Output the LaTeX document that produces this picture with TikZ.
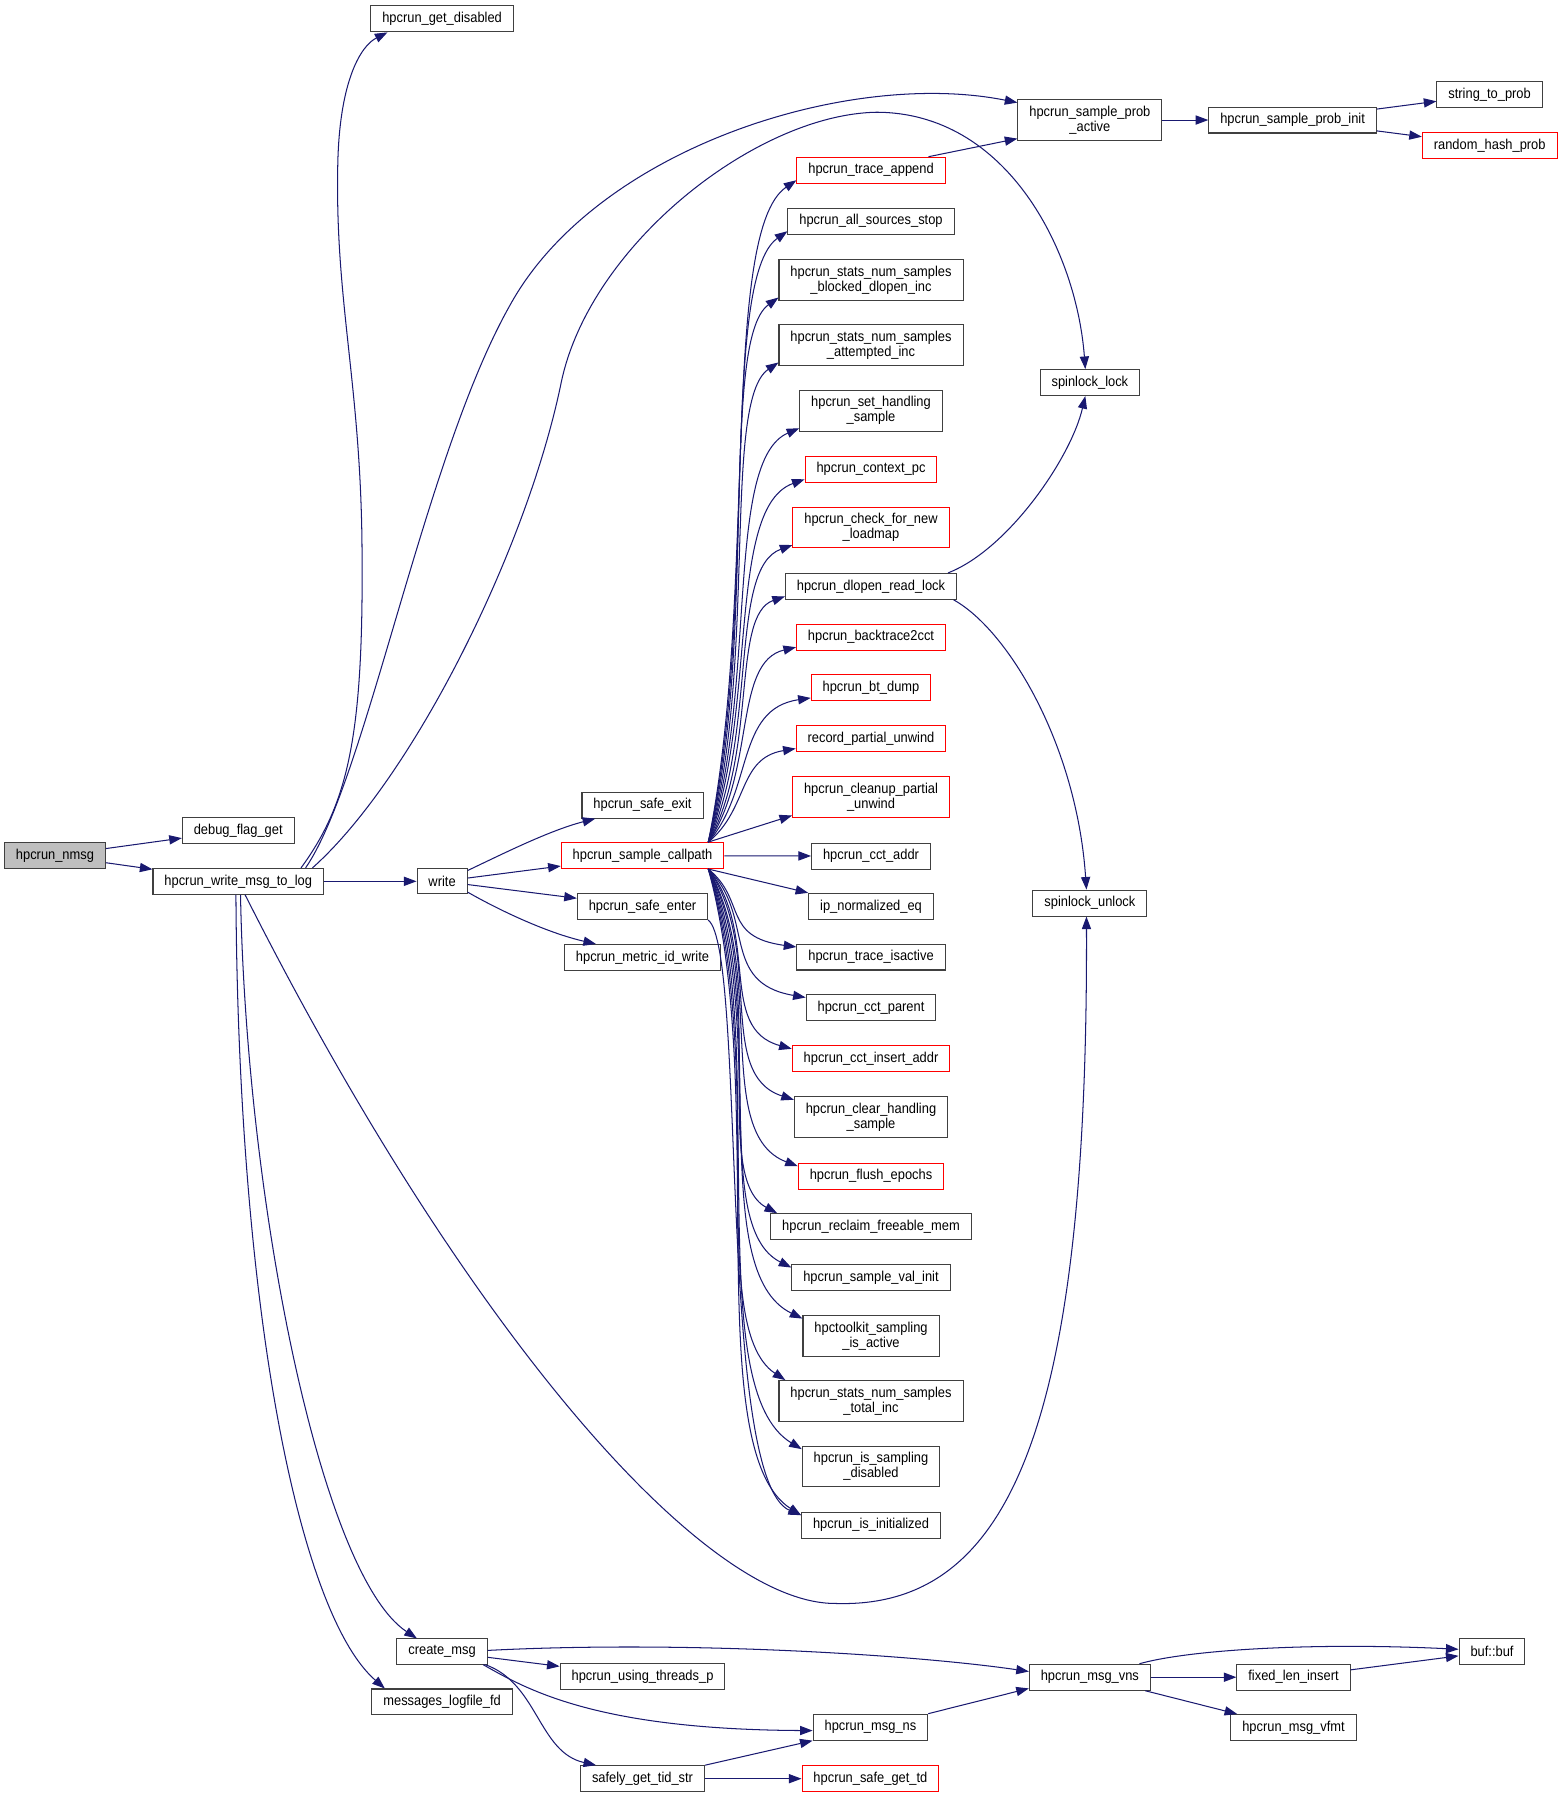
\documentclass[tikz,border=0pt]{standalone}
\usepackage{fontspec}
\setmainfont{Liberation Sans}[FakeStretch=0.9]
\usepackage{xcolor}
\usetikzlibrary{arrows.meta}

\definecolor{edgeblue}{HTML}{191970}
\definecolor{boxline}{HTML}{404040}
\definecolor{rootfill}{HTML}{BFBFBF}

\tikzset{
  fnbox/.style={draw=boxline, line width=0.9pt, fill=white, inner xsep=10pt, inner ysep=5.5pt,
    minimum height=22pt, align=center, font=\fontsize{12.5}{13}\selectfont},
  fnboxred/.style={fnbox, draw=red},
  fnboxroot/.style={fnbox, fill=rootfill},
  call/.style={draw=edgeblue, line width=0.9pt, -{Triangle[length=11pt,width=8pt]}},
}

\begin{document}
\begin{tikzpicture}[x=1pt, y=-1pt]
\useasboundingbox[fill=white] (0,0) rectangle (1363,1569);

\node[fnboxroot] (nmsg) at (48,747) {hpcrun\_nmsg};
\node[fnbox] (dbgflag) at (208,725) {debug\_flag\_get};
\node[fnbox] (wlog) at (208,769.5) {hpcrun\_write\_msg\_to\_log};
\node[fnbox] (getdis) at (386,16.5) {hpcrun\_get\_disabled};
\node[fnbox] (write) at (386,769.5) {write};
\node[fnbox] (cmsg) at (386,1442) {create\_msg};
\node[fnbox] (logfd) at (386,1486) {messages\_logfile\_fd};

\node[fnbox] (sexit) at (561,703) {hpcrun\_safe\_exit};
\node[fnboxred] (cp) at (561,747) {hpcrun\_sample\_callpath};
\node[fnbox] (senter) at (561,791.5) {hpcrun\_safe\_enter};
\node[fnbox] (metric) at (561,836) {hpcrun\_metric\_id\_write};
\node[fnbox] (threads) at (561,1464) {hpcrun\_using\_threads\_p};
\node[fnbox] (tidstr) at (561,1553) {safely\_get\_tid\_str};

\node[fnboxred] (trace) at (760.5,148.6) {hpcrun\_trace\_append};
\node[fnbox] (allstop) at (760.5,193.1) {hpcrun\_all\_sources\_stop};
\node[fnbox] (blocked) at (760.5,244.5) {hpcrun\_stats\_num\_samples\\\_blocked\_dlopen\_inc};
\node[fnbox] (attempted) at (760.5,301.2) {hpcrun\_stats\_num\_samples\\\_attempted\_inc};
\node[fnbox] (sethandling) at (760.5,358.6) {hpcrun\_set\_handling\\\_sample};
\node[fnboxred] (ctxpc) at (760.5,409.7) {hpcrun\_context\_pc};
\node[fnboxred] (loadmap) at (760.5,460.6) {hpcrun\_check\_for\_new\\\_loadmap};
\node[fnbox] (dlopen) at (760.5,512) {hpcrun\_dlopen\_read\_lock};
\node[fnboxred] (bttocct) at (760.5,556.3) {hpcrun\_backtrace2cct};
\node[fnboxred] (btdump) at (760.5,600.6) {hpcrun\_bt\_dump};
\node[fnboxred] (recpart) at (760.5,644.8) {record\_partial\_unwind};
\node[fnboxred] (cleanup) at (760.5,695.8) {hpcrun\_cleanup\_partial\\\_unwind};
\node[fnbox] (cctaddr) at (760.5,747.5) {hpcrun\_cct\_addr};
\node[fnbox] (ipnorm) at (760.5,791.3) {ip\_normalized\_eq};
\node[fnbox] (traceact) at (760.5,835.6) {hpcrun\_trace\_isactive};
\node[fnbox] (cctparent) at (760.5,879.7) {hpcrun\_cct\_parent};
\node[fnboxred] (cctinsert) at (760.5,924.5) {hpcrun\_cct\_insert\_addr};
\node[fnbox] (clearhandling) at (760.5,975.5) {hpcrun\_clear\_handling\\\_sample};
\node[fnboxred] (flush) at (760.5,1027) {hpcrun\_flush\_epochs};
\node[fnbox] (reclaim) at (760.5,1071) {hpcrun\_reclaim\_freeable\_mem};
\node[fnbox] (valinit) at (760.5,1115.5) {hpcrun\_sample\_val\_init};
\node[fnbox] (sampactive) at (760.5,1166.5) {hpctoolkit\_sampling\\\_is\_active};
\node[fnbox] (totalinc) at (760.5,1223.2) {hpcrun\_stats\_num\_samples\\\_total\_inc};
\node[fnbox] (sampdisabled) at (760.5,1280.5) {hpcrun\_is\_sampling\\\_disabled};
\node[fnbox] (isinit) at (760.5,1331.7) {hpcrun\_is\_initialized};
\node[fnbox] (msgns) at (760,1508) {hpcrun\_msg\_ns};
\node[fnboxred] (safetd) at (760,1553) {hpcrun\_safe\_get\_td};

\node[fnbox] (probact) at (951.6,104.8) {hpcrun\_sample\_prob\\\_active};
\node[fnbox] (splock) at (951.6,334) {spinlock\_lock};
\node[fnbox] (spunlock) at (951.6,788.5) {spinlock\_unlock};
\node[fnbox] (msgvns) at (951.6,1464.4) {hpcrun\_msg\_vns};
\node[fnbox] (probinit) at (1128.6,104.8) {hpcrun\_sample\_prob\_init};
\node[fnbox] (fixlen) at (1129.4,1464.4) {fixed\_len\_insert};
\node[fnbox] (vfmt) at (1129.4,1508.3) {hpcrun\_msg\_vfmt};
\node[fnbox] (strprob) at (1300.6,82.4) {string\_to\_prob};
\node[fnboxred] (randhash) at (1300.7,127) {random\_hash\_prob};
\node[fnbox] (buf) at (1302.7,1442) {buf::buf};

\coordinate (cpup) at ([xshift=-14pt]cp.north east);
\coordinate (cpdown) at ([xshift=-14pt]cp.south east);

\draw[call] (nmsg) -- (dbgflag);
\draw[call] (nmsg) -- (wlog);
\draw[call] (wlog) -- (write);
\draw[call] ([xshift=-20pt]wlog.north east) .. controls (305,700) and (318,640) .. (316,470)
  .. controls (314,330) and (292,260) .. (295,140) .. controls (297,70) and (315,40) .. ([xshift=15pt]getdis.south west);
\draw[call] ([xshift=-16pt]wlog.north east) .. controls (320,680) and (370,400) .. (445,267)
  .. controls (520,130) and (740,60) .. ([yshift=-3pt]probact.north west);
\draw[call] ([xshift=-10pt]wlog.north east) .. controls (360,680) and (460,480) .. (490,334)
  .. controls (515,214) and (660,100) .. (765,98) .. controls (880,98) and (940,220) .. ([xshift=-4pt]splock.north);
\draw[call] ([xshift=6pt]wlog.south) .. controls (400,1150) and (610,1400) .. (729,1400)
  .. controls (880,1405) and (950,1250) .. ([xshift=-3pt]spunlock.south);
\draw[call] ([xshift=2pt]wlog.south) .. controls (215,1050) and (280,1375) .. ([xshift=-22pt]cmsg.north);
\draw[call] ([xshift=-2pt]wlog.south) .. controls (208,1150) and (262,1410) .. ([xshift=-50pt]logfd.north);

\draw[call] ([yshift=-2pt]write.north east) .. controls (440,745) and (480,725) .. ([xshift=12pt]sexit.south west);
\draw[call] (write) -- (cp);
\draw[call] (write) -- (senter);
\draw[call] ([yshift=2pt]write.south east) .. controls (440,797) and (480,815) .. ([xshift=28pt]metric.north west);

\draw[call] (cpup) .. controls (662,520) and (628,203) .. ([yshift=3pt]trace.south west);
\draw[call] (cpup) .. controls (662,540) and (628,244) .. ([yshift=3pt]allstop.south west);
\draw[call] (cpup) .. controls (662,560) and (628,297) .. ([yshift=3pt]blocked.south west);
\draw[call] (cpup) .. controls (662,582) and (630,350) .. ([yshift=3pt]attempted.south west);
\draw[call] (cpup) .. controls (662,602) and (632,402) .. ([yshift=3pt]sethandling.south west);
\draw[call] (cpup) .. controls (662,620) and (634,443) .. ([yshift=3pt]ctxpc.south west);
\draw[call] (cpup) .. controls (662,640) and (636,496) .. ([yshift=3pt]loadmap.south west);
\draw[call] (cpup) .. controls (662,658) and (638,537) .. ([yshift=3pt]dlopen.south west);
\draw[call] (cpup) .. controls (660,674) and (640,578) .. ([yshift=3pt]bttocct.south west);
\draw[call] (cpup) .. controls (658,690) and (642,619) .. ([yshift=3pt]btdump.south west);
\draw[call] (cpup) .. controls (654,706) and (644,662) .. ([yshift=3pt]recpart.south west);
\draw[call] (cpup) -- ([yshift=2pt]cleanup.south west);
\draw[call] (cp) -- (cctaddr);
\draw[call] (cpdown) -- (ipnorm.north west);
\draw[call] (cpdown) .. controls (652,786) and (630,818) .. ([yshift=-3pt]traceact.north west);
\draw[call] (cpdown) .. controls (660,800) and (628,858) .. ([yshift=-3pt]cctparent.north west);
\draw[call] (cpdown) .. controls (664,815) and (626,898) .. ([yshift=-3pt]cctinsert.north west);
\draw[call] (cpdown) .. controls (668,830) and (624,938) .. ([yshift=-3pt]clearhandling.north west);
\draw[call] (cpdown) .. controls (670,848) and (622,990) .. ([yshift=-3pt]flush.north west);
\draw[call] (cpdown) .. controls (672,862) and (620,1028) .. ([xshift=6pt]reclaim.north west);
\draw[call] (cpdown) .. controls (672,878) and (618,1070) .. ([yshift=-3pt]valinit.north west);
\draw[call] (cpdown) .. controls (672,894) and (616,1110) .. ([yshift=-3pt]sampactive.north west);
\draw[call] (cpdown) .. controls (672,912) and (614,1158) .. ([xshift=6pt]totalinc.north west);
\draw[call] (cpdown) .. controls (672,932) and (612,1212) .. ([yshift=-3pt]sampdisabled.north west);
\draw[call] (cpdown) .. controls (672,952) and (610,1266) .. ([yshift=-3pt]isinit.north west);
\draw[call] (senter.south east) .. controls (652,830) and (626,1292) .. ([yshift=-3pt]isinit.north west);

\draw[call] ([xshift=-15pt]trace.north east) -- ([yshift=2pt]probact.south west);
\draw[call] (probact) -- (probinit);
\draw[call] (probinit) -- (strprob);
\draw[call] (probinit) -- (randhash);
\draw[call] ([xshift=-8pt]dlopen.north east) .. controls (880,480) and (935,400) .. ([xshift=-4pt]splock.south);
\draw[call] ([xshift=-3pt]dlopen.south east) .. controls (880,550) and (940,650) .. ([xshift=-3pt]spunlock.north);

\draw[call] (cmsg) -- (threads);
\draw[call] ([yshift=1pt]cmsg.east) .. controls (600,1432) and (800,1445) .. ([yshift=5pt]msgvns.west);
\draw[call] ([xshift=-4pt]cmsg.south east) .. controls (460,1475) and (520,1510) .. ([yshift=-3pt]msgns.west);
\draw[call] ([xshift=-2pt]cmsg.south east) .. controls (470,1470) and (470,1530) .. ([xshift=14pt]tidstr.north west);
\draw[call] (tidstr.north east) -- (msgns.south west);
\draw[call] (tidstr) -- (safetd);
\draw[call] (msgns.north east) -- ([yshift=2pt]msgvns.south west);
\draw[call] ([xshift=-10pt]msgvns.north east) .. controls (1040,1440) and (1150,1434) .. ([yshift=2pt]buf.west);
\draw[call] (msgvns) -- (fixlen);
\draw[call] ([xshift=-5pt]msgvns.south east) -- ([xshift=6pt]vfmt.north west);
\draw[call] (fixlen) -- (buf);
\end{tikzpicture}
\end{document}
